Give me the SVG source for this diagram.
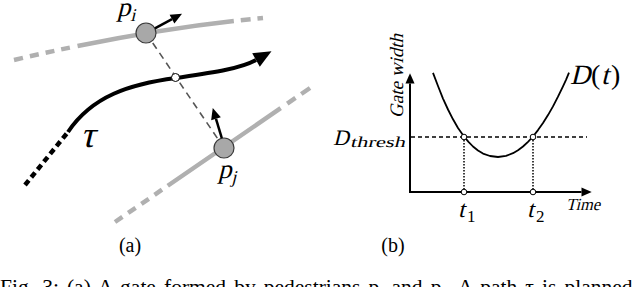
<svg xmlns="http://www.w3.org/2000/svg" width="640" height="287" viewBox="0 0 640 287">
<style>
.gray{fill:none;stroke:#b0b0b0;stroke-width:4.5}
.ped{fill:#a8a8a8;stroke:#3a3a3a;stroke-width:1.2}
.shaft{fill:none;stroke:#000;stroke-width:2.5}
.ax{fill:none;stroke:#000;stroke-width:2}
.pt{fill:#fff;stroke:#000;stroke-width:1}
text{font-family:"Liberation Serif","DejaVu Serif",serif;fill:#000}
</style>
<defs>
<marker id="big" markerUnits="userSpaceOnUse" markerWidth="20" markerHeight="20" refX="0" refY="0" viewBox="0 -8 18 16" orient="auto" overflow="visible">
<path d="M0,-7 L16,0 L0,7 z" fill="#000"/>
</marker>
<marker id="small" markerUnits="userSpaceOnUse" markerWidth="12" markerHeight="12" refX="0" refY="0" viewBox="0 -5 10 10" orient="auto" overflow="visible">
<path d="M0,-4.2 L9.5,0 L0,4.2 z" fill="#000"/>
</marker>
<marker id="axh" markerUnits="userSpaceOnUse" markerWidth="12" markerHeight="12" refX="0" refY="0" viewBox="0 -5 10 10" orient="auto" overflow="visible">
<path d="M0,-3.8 L8.5,0 L0,3.8 z" fill="#000"/>
</marker>
</defs>

<!-- panel (a) -->
<g id="lane-upper">
<path class="gray" d="M14,60 Q150,28 263,18" stroke-dasharray="9 7 9 7 9 7 9 8 158 7 10 7 14"/>
</g>
<g id="lane-lower">
<path class="gray" d="M115,222 L310,88" stroke-dasharray="9 7 9 7 9 7 9 7 137 8 10 7 14"/>
</g>

<g id="connectors">
<path d="M146,33 L224,148" fill="none" stroke="#555" stroke-width="1.6" stroke-dasharray="7 5"/>
</g>

<g id="trajectory">
<path d="M25,185 L68,132" fill="none" stroke="#000" stroke-width="4.5" stroke-dasharray="6 4"/>
<path d="M68,132 C92,96 130,84 176,78 C210,73 240,69 256,60" fill="none" stroke="#000" stroke-width="4" marker-end="url(#big)"/>
<circle class="pt" cx="175.5" cy="77.5" r="4" stroke-width="1.3"/>
<text transform="translate(80,147) skewX(-14)" font-size="37">τ</text>
</g>

<g id="pi">
<circle class="ped" cx="146" cy="33" r="10"/>
<path class="shaft" d="M154.9,28.4 L172,19.1" marker-end="url(#small)"/>
<text transform="translate(117,16) skewX(-14)" font-size="27">p<tspan font-size="18" dx="1" dy="5">i</tspan></text>
</g>

<g id="pj">
<circle class="ped" cx="224" cy="148" r="10"/>
<path class="shaft" d="M221.8,138.2 L216,118.8" marker-end="url(#small)"/>
<text transform="translate(218,178) skewX(-14)" font-size="27">p<tspan font-size="18" dx="1" dy="5">j</tspan></text>
</g>

<text x="130" y="252" font-size="20" text-anchor="middle">(a)</text>

<!-- panel (b) -->
<g id="axes">
<path class="ax" d="M410,193 L410,83.5" marker-end="url(#axh)"/>
<path class="ax" d="M409,192 L581.5,192" marker-end="url(#axh)"/>
<text font-size="19" transform="translate(403,76) rotate(-90) skewX(-14)" text-anchor="middle">Gate width</text>
<text transform="translate(566,210) skewX(-14)" font-size="17" textLength="34" lengthAdjust="spacingAndGlyphs">Time</text>
</g>

<g id="threshold">
<path d="M411,137 L587,137" fill="none" stroke="#000" stroke-width="1.5" stroke-dasharray="4 3"/>
<text transform="translate(333,145) skewX(-14)" font-size="22">D</text>
<text transform="translate(350,147) skewX(-14)" font-size="15" textLength="55" lengthAdjust="spacingAndGlyphs">thresh</text>
</g>

<g id="curve">
<path d="M433,72.9 L438,86 L443,98.6 L448,109.5 L453,119.3 L458,128 L464,136.5 L468.5,141.8 L473,146.5 L478,150.5 L483,153.6 L490,156 L498,157 L506,155.9 L513,153.2 L518,150.2 L523,146.5 L528,141.8 L533,136.5 L538,130.1 L543,123.1 L548,115.1 L553,106.4 L558,96.7 L563,86.3 L566,79.8 L569,72.7" fill="none" stroke="#000" stroke-width="1.8" stroke-linejoin="round"/>
<text transform="translate(570,84) skewX(-14)" font-size="28">D</text>
<text x="591" y="84" font-size="28">(</text>
<text transform="translate(601,84) skewX(-14)" font-size="28">t</text>
<text x="611" y="84" font-size="28">)</text>
</g>

<g id="t1">
<path d="M464,137 L464,192" fill="none" stroke="#000" stroke-width="1.5" stroke-dasharray="1.5 1.5"/>
<circle class="pt" cx="464" cy="137" r="2.8"/>
<circle class="pt" cx="464" cy="192" r="2.8"/>
<text transform="translate(458,217) skewX(-14)" font-size="24">t</text>
<text x="467" y="222" font-size="17">1</text>
</g>
<g id="t2">
<path d="M533,137 L533,192" fill="none" stroke="#000" stroke-width="1.5" stroke-dasharray="1.5 1.5"/>
<circle class="pt" cx="533" cy="137" r="2.8"/>
<circle class="pt" cx="533" cy="192" r="2.8"/>
<text transform="translate(527,217) skewX(-14)" font-size="24">t</text>
<text x="536" y="222" font-size="17">2</text>
</g>

<text x="393" y="252" font-size="20" text-anchor="middle">(b)</text>

<!-- caption (cut off at bottom, as in the reference) -->
<text x="0" y="294" font-size="21.5" word-spacing="2.7">Fig. 3: (a) A gate formed by pedestrians p<tspan font-size="15" dy="3">i</tspan><tspan dy="-3"> and p</tspan><tspan font-size="15" dy="3">j</tspan><tspan dy="-3">. A path τ is planned</tspan></text>
</svg>
